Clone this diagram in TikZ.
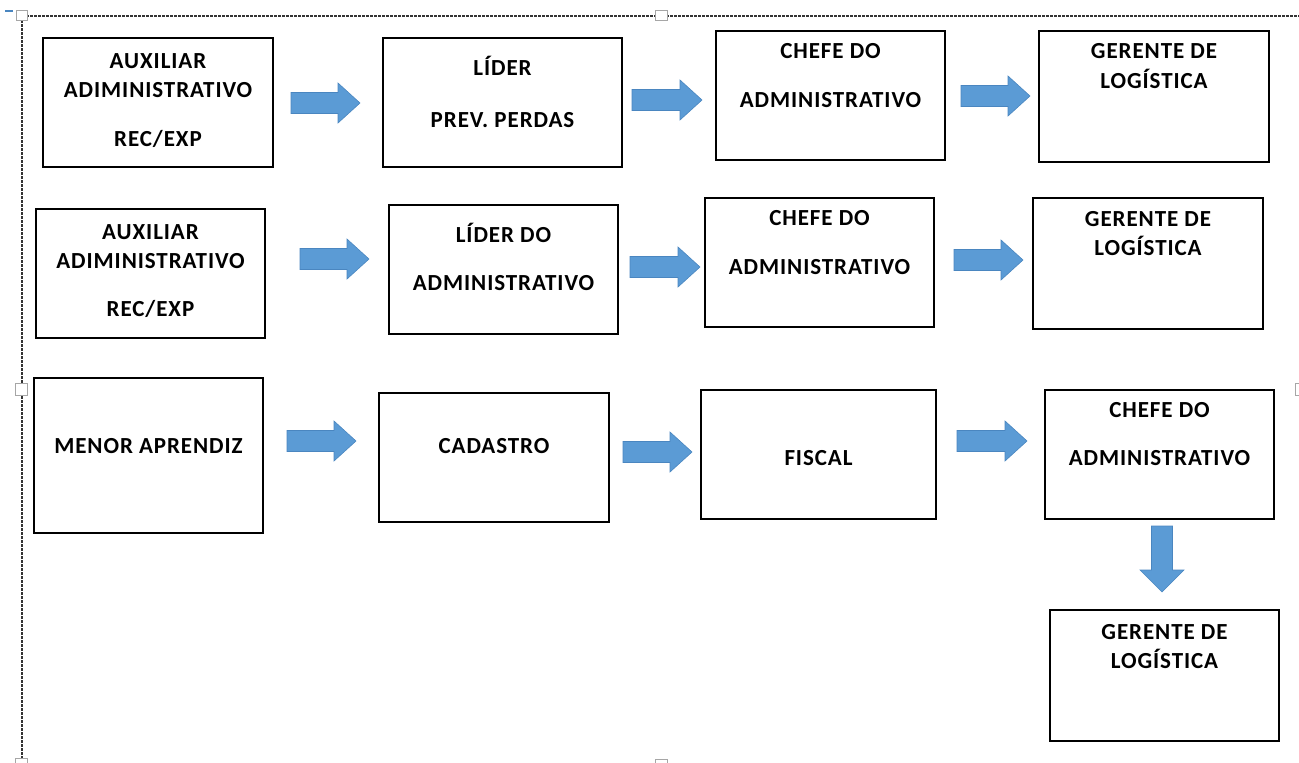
\documentclass[tikz,border=0pt]{standalone}
\usepackage{fontspec}
\setmainfont{Carlito}[LetterSpace=4.0]
\definecolor{arrowfill}{HTML}{5B9BD5}
\definecolor{arrowline}{HTML}{4A86C0}
\definecolor{framegray}{HTML}{333333}
\tikzset{
  orgbox/.style={draw=black, line width=1.2pt, fill=none},
  lbl/.style={anchor=base, inner sep=0pt, font=\fontsize{23}{27}\selectfont\bfseries},
  blockarrow/.style={fill=arrowfill, draw=arrowline, line width=0.6pt},
  selframe/.style={draw=framegray, line width=2.4pt, dash pattern=on 3pt off 1pt},
  handle/.style={draw=gray!70, fill=white, line width=1pt}
}
% right block arrow: #1 = x start, #2 = x tip, #3 = y centre
\newcommand{\blockR}[3]{%
  \path[blockarrow] (#1,#3-10.5) -- (#2-22,#3-10.5) -- (#2-22,#3-20) -- (#2,#3)
    -- (#2-22,#3+20) -- (#2-22,#3+10.5) -- (#1,#3+10.5) -- cycle;}
\newcommand{\orgbox}[5]{%
  \node[orgbox, minimum width=#4-#2, minimum height=#5-#3, inner sep=0pt]
    (#1) at ({(#2+#4)/2},{(#3+#5)/2}) {};}
\begin{document}
\begin{tikzpicture}[x=1pt,y=-1pt]
\useasboundingbox (0,0) rectangle (1299,763);
% selection frame
\draw[selframe] (22,16) -- (1299,16);
\draw[selframe] (22,16) -- (22,763);
\draw[draw=arrowline, line width=1.5pt] (5,11) -- (13,11);
\path[handle] (16,10) rectangle (27,20);
\path[handle] (655,10) rectangle (667,20);
\path[handle] (15,383) rectangle (27,395);
\path[handle] (1295,383) rectangle (1305,395);
\path[handle] (15,758) rectangle (27,770);
\path[handle] (655,759) rectangle (667,770);

% boxes
\orgbox{b1}{43}{38}{273}{167}
\orgbox{b2}{383}{38}{622}{167}
\orgbox{b3}{716}{31}{945}{160}
\orgbox{b4}{1039}{31}{1269}{162}
\orgbox{b5}{36}{209}{265}{338}
\orgbox{b6}{389}{205}{618}{334}
\orgbox{b7}{705}{198}{934}{327}
\orgbox{b8}{1033}{198}{1263}{329}
\orgbox{b9}{34}{378}{263}{533}
\orgbox{b10}{379}{393}{609}{522}
\orgbox{b11}{701}{390}{936}{519}
\orgbox{b12}{1045}{390}{1274}{519}
\orgbox{b13}{1050}{610}{1279}{741}

% texts (baseline = cap centre + 7)
\node[lbl] (t1a) at (b1.center |- 0,68) {AUXILIAR};
\node[lbl] (t1b) at (b1.center |- 0,97) {ADIMINISTRATIVO};
\node[lbl] (t1c) at (b1.center |- 0,146) {REC/EXP};
\node[lbl] (t2a) at (b2.center |- 0,75) {LÍDER};
\node[lbl] (t2b) at (b2.center |- 0,127) {PREV. PERDAS};
\node[lbl] (t3a) at (b3.center |- 0,58) {CHEFE DO};
\node[lbl] (t3b) at (b3.center |- 0,107) {ADMINISTRATIVO};
\node[lbl] (t4a) at (b4.center |- 0,58) {GERENTE DE};
\node[lbl] (t4b) at (b4.center |- 0,88) {LOGÍSTICA};

\node[lbl] (t5a) at (b5.center |- 0,239) {AUXILIAR};
\node[lbl] (t5b) at (b5.center |- 0,268) {ADIMINISTRATIVO};
\node[lbl] (t5c) at (b5.center |- 0,316) {REC/EXP};
\node[lbl] (t6a) at (b6.center |- 0,242) {LÍDER DO};
\node[lbl] (t6b) at (b6.center |- 0,290) {ADMINISTRATIVO};
\node[lbl] (t7a) at (b7.center |- 0,225) {CHEFE DO};
\node[lbl] (t7b) at (b7.center |- 0,274) {ADMINISTRATIVO};
\node[lbl] (t8a) at (b8.center |- 0,226) {GERENTE DE};
\node[lbl] (t8b) at (b8.center |- 0,255) {LOGÍSTICA};

\node[lbl] (t9) at (b9.center |- 0,453) {MENOR APRENDIZ};
\node[lbl] (t10) at (b10.center |- 0,453) {CADASTRO};
\node[lbl] (t11) at (b11.center |- 0,465) {FISCAL};
\node[lbl] (t12a) at (b12.center |- 0,417) {CHEFE DO};
\node[lbl] (t12b) at (b12.center |- 0,465) {ADMINISTRATIVO};
\node[lbl] (t13a) at (b13.center |- 0,639) {GERENTE DE};
\node[lbl] (t13b) at (b13.center |- 0,668) {LOGÍSTICA};

% block arrows
\blockR{291}{360}{103}
\blockR{632}{702}{100}
\blockR{961}{1030}{96}
\blockR{300}{369}{259}
\blockR{630}{700}{267}
\blockR{954}{1023}{260}
\blockR{287}{356}{441}
\blockR{623}{692}{452}
\blockR{957}{1027}{441}
% down arrow
\path[blockarrow] (1151.5,526) -- (1172.5,526) -- (1172.5,570) -- (1184,570)
  -- (1162,592) -- (1140,570) -- (1151.5,570) -- cycle;
\end{tikzpicture}
\end{document}
